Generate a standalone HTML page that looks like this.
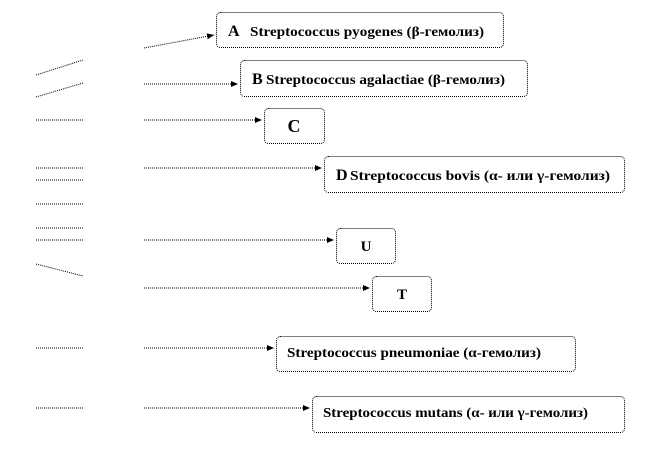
<!DOCTYPE html>
<html><head><meta charset="utf-8"><style>body{margin:0;background:#fff}svg{display:block}</style></head>
<body>
<svg width="660" height="456" viewBox="0 0 660 456" xmlns="http://www.w3.org/2000/svg">
<defs><marker id="ar" markerWidth="8" markerHeight="8" refX="7" refY="3" orient="auto" markerUnits="userSpaceOnUse"><path d="M0,0 L7,3 L0,6z" fill="#000"/></marker></defs>
<g stroke="#000" stroke-width="1" stroke-dasharray="1,1" fill="none">
<line x1="36" y1="75" x2="83" y2="60"/>
<line x1="36" y1="97" x2="83" y2="83"/>
<line x1="36" y1="120" x2="83" y2="120"/>
<line x1="36" y1="168" x2="83" y2="168"/>
<line x1="36" y1="180" x2="83" y2="180"/>
<line x1="36" y1="204" x2="83" y2="204"/>
<line x1="36" y1="228" x2="83" y2="228"/>
<line x1="36" y1="240" x2="83" y2="240"/>
<line x1="36" y1="264" x2="83" y2="276"/>
<line x1="36" y1="348" x2="83" y2="348"/>
<line x1="36" y1="408" x2="83" y2="408"/>
<line x1="144" y1="48" x2="214" y2="35" marker-end="url(#ar)"/>
<line x1="144" y1="84" x2="238" y2="84" marker-end="url(#ar)"/>
<line x1="144" y1="120" x2="262" y2="120" marker-end="url(#ar)"/>
<line x1="144" y1="168" x2="322" y2="168" marker-end="url(#ar)"/>
<line x1="144" y1="240" x2="334" y2="240" marker-end="url(#ar)"/>
<line x1="144" y1="288" x2="370" y2="288" marker-end="url(#ar)"/>
<line x1="144" y1="348" x2="274" y2="348" marker-end="url(#ar)"/>
<line x1="144" y1="408" x2="310" y2="408" marker-end="url(#ar)"/>
<rect x="216.5" y="12.5" width="287" height="35" rx="4"/>
<rect x="240.5" y="60.5" width="287" height="36" rx="4"/>
<rect x="264.5" y="108.5" width="60" height="35" rx="4"/>
<rect x="324.5" y="156.5" width="300" height="36" rx="4"/>
<rect x="336.5" y="228.5" width="59" height="35" rx="4"/>
<rect x="372.5" y="276.5" width="59" height="35" rx="4"/>
<rect x="276.5" y="336.5" width="299" height="35" rx="4"/>
<rect x="312.5" y="396.5" width="312" height="36" rx="4"/>
</g>
<g font-family="Liberation Serif, serif" font-weight="bold" fill="#000">
<text x="228" y="36" font-size="16">A</text>
<text x="250" y="36" font-size="14" textLength="234" lengthAdjust="spacingAndGlyphs">Streptococcus  pyogenes  (β-гемолиз)</text>
<text x="252" y="84" font-size="16">B</text>
<text x="266" y="84" font-size="14" textLength="239" lengthAdjust="spacingAndGlyphs">Streptococcus  agalactiae  (β-гемолиз)</text>
<text x="294" y="132" font-size="18" text-anchor="middle">C</text>
<text x="336" y="180" font-size="16">D</text>
<text x="350" y="180" font-size="14" textLength="260" lengthAdjust="spacingAndGlyphs">Streptococcus  bovis  (α- или γ-гемолиз)</text>
<text x="366" y="251" font-size="15" text-anchor="middle">U</text>
<text x="402" y="299" font-size="15" text-anchor="middle">T</text>
<text x="287" y="357" font-size="14" textLength="254" lengthAdjust="spacingAndGlyphs">Streptococcus  pneumoniae  (α-гемолиз)</text>
<text x="323" y="417" font-size="14" textLength="265" lengthAdjust="spacingAndGlyphs">Streptococcus  mutans  (α- или γ-гемолиз)</text>
</g>
</svg>
</body></html>
